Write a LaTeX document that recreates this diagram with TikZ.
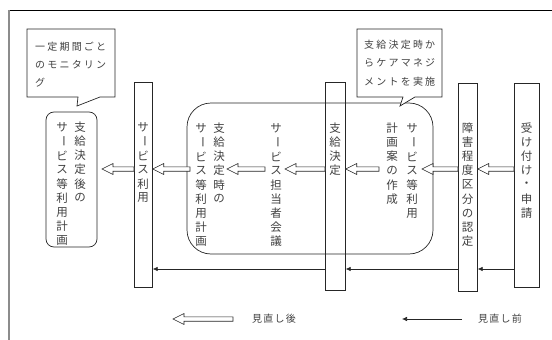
\documentclass[tikz,border=0pt]{standalone}
\usepackage{fontspec}
\usepackage{graphicx}
\newfontfamily\jp{Noto Sans CJK JP}
\usetikzlibrary{arrows.meta,calc}
\colorlet{ln}{black!85}
\colorlet{tx}{black!75}
\newcommand\VL{\rotatebox[origin=c]{-90}{ー}}
\tikzset{
  bar/.style={draw=ln, line width=0.7pt, rectangle, inner sep=0pt, anchor=north west},
  vch/.style={font=\jp\fontsize{11.5}{12}\selectfont, text=tx, inner sep=0pt},
  harrow/.style={draw=ln, fill=white, line width=0.6pt},
  thinarr/.style={draw=ln, line width=0.6pt, -{Latex[length=5pt,width=4.5pt]}},
  callbox/.style={draw=ln, fill=white, line width=0.7pt},
  callt/.style={font=\jp\fontsize{10}{12}\selectfont\addfontfeature{LetterSpace=22}, anchor=west, inner sep=0pt, text=tx},
  legt/.style={font=\jp\fontsize{10}{12}\selectfont\addfontfeature{LetterSpace=12}, inner sep=0pt, text=tx},
}
\newcommand\vcol[4]{%
  \foreach \ch [count=\i] in {#4} \node[vch] (#1-\i) at (#2,{#3+14.2*(\i-1)}) {\ch};}
\newcommand\harr[2]{%
  \path[harrow] let \p1=(#1), \p2=(#2) in
    (\x1,\y2+2.2pt) -- (\x2+11pt,\y2+2.2pt) -- (\x2+11pt,\y2+5.5pt) -- (\x2,\y2)
    -- (\x2+11pt,\y2-5.5pt) -- (\x2+11pt,\y2-2.2pt) -- (\x1,\y2-2.2pt) -- cycle;}
\begin{document}
\begin{tikzpicture}[x=1pt,y=-1pt]
\useasboundingbox (0,0) rectangle (552,340);
% frame
\draw[black, line width=0.8pt] (9,10) -- (552,10);
\draw[black!45, line width=1.6pt] (9,10) -- (9,340);

% group box
\draw[ln, line width=0.7pt, rounded corners=24pt] (187,103) rectangle (433,254);
% left result box
\draw[ln, line width=0.7pt, rounded corners=8pt] (46,112) rectangle (97,247);

% bars
\node[bar, minimum width=18pt, minimum height=205pt] (bU) at (134,82) {};
\node[bar, minimum width=20pt, minimum height=208pt] (bK) at (325,82) {};
\node[bar, minimum width=19pt, minimum height=208pt] (bS) at (458,83) {};
\node[bar, minimum width=25pt, minimum height=204pt] (bA) at (514,83) {};

% callouts
\draw[callbox] (27,29) -- (115,29) -- (115,97) -- (100,97) -- (77,106) -- (78,97) -- (27,97) -- cycle;
\node[callt] (c1a) at (35,47) {一定期間ごと};
\node[callt] (c1b) at (35,65) {のモニタリン};
\node[callt] (c1c) at (35,83) {グ};
\draw[callbox] (357,29) -- (442,29) -- (442,97) -- (415,97) -- (400,106) -- (403,97) -- (357,97) -- cycle;
\node[callt] (c2a) at (364,45) {支給決定時か};
\node[callt] (c2b) at (364,63) {らケアマネジ};
\node[callt] (c2c) at (364,82) {メントを実施};

% vertical texts
\vcol{L1}{80}{127}{支,給,決,定,後,の}
\vcol{L2}{62}{127}{サ,\VL,ビ,ス,等,利,用,計,画}
\vcol{U}{143}{127}{サ,\VL,ビ,ス,利,用}
\vcol{J1}{219}{128}{支,給,決,定,時,の}
\vcol{J2}{201}{128}{サ,\VL,ビ,ス,等,利,用,計,画}
\vcol{T}{276}{128}{サ,\VL,ビ,ス,担,当,者,会,議}
\vcol{K}{335}{128}{支,給,決,定}
\vcol{P1}{412}{128}{サ,\VL,ビ,ス,等,利,用}
\vcol{P2}{392}{128}{計,画,案,の,作,成}
\vcol{S}{467.5}{128}{障,害,程,度,区,分,の,認,定}
\vcol{A}{526.5}{128}{受,け,付,け,・,申,請}

% arrow levels and text endpoints
\coordinate (hy) at (0,169);
\coordinate (ty) at (0,269);
\coordinate (pR) at (422,169);
\coordinate (pL) at (379,169);
\coordinate (tR) at (285,169);
\coordinate (tL) at (265,169);
\coordinate (jR) at (227,169);
\coordinate (jL) at (190,169);
\coordinate (lR) at (102,169);

% hollow arrows (after review)
\harr{bA.west |- hy}{bS.east |- hy}
\harr{bS.west |- hy}{pR}
\harr{pL}{bK.east |- hy}
\harr{bK.west |- hy}{tR}
\harr{tL}{jR}
\harr{jL}{bU.east |- hy}
\harr{bU.west |- hy}{lR}

% thin arrows (before review)
\draw[thinarr] (bA.west |- ty) -- (bS.east |- ty);
\draw[thinarr] (bS.west |- ty) -- (bK.east |- ty);
\draw[thinarr] (bK.west |- ty) -- (bU.east |- ty);

% legend
\coordinate (g1t) at (233,319);
\coordinate (g1h) at (173,319);
\harr{g1t}{g1h}
\node[legt, anchor=west] (g1) at (252,319) {見直し後};
\coordinate (g2t) at (462,319);
\coordinate (g2h) at (402,319);
\draw[thinarr] (g2t) -- (g2h);
\node[legt, anchor=west] (g2) at (478,319) {見直し前};
\end{tikzpicture}
\end{document}
